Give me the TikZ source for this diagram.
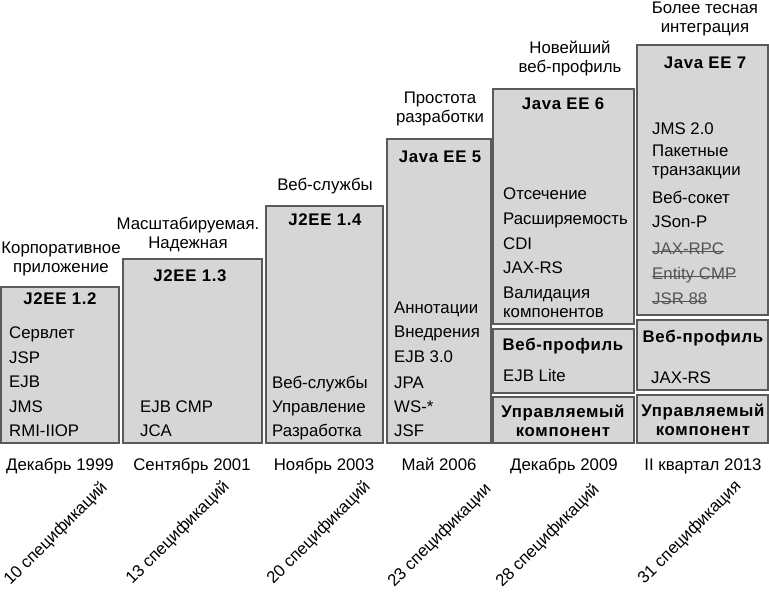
\documentclass[tikz,border=0pt]{standalone}
\usepackage{fontspec}
\setmainfont{Liberation Sans}
\newfontfamily\hdrfont[LetterSpace=4]{Liberation Sans}
\usetikzlibrary{positioning}
\definecolor{boxfill}{HTML}{D6D6D6}
\definecolor{boxline}{HTML}{5A5A5A}
\definecolor{oldtext}{HTML}{555555}

\begin{document}
\begin{tikzpicture}
		[x=1pt,y=-1pt,
		 every node/.style={font=\fontsize{16.8}{19}\selectfont,inner sep=0pt,anchor=base},
		 box/.style={fill=boxfill,draw=boxline,line width=1.2pt},
		 hdr/.style={font=\fontsize{16.8}{19}\selectfont\hdrfont\bfseries},
		 item/.style={anchor=base west},
		 stage/.style={align=center},
		 old/.style={item,text=oldtext,
		 	append after command={(\tikzlastnode.mid west) edge[draw=oldtext,line width=0.8pt] (\tikzlastnode.mid east)}},
		 spec/.style={anchor=center,rotate=45}]
		\useasboundingbox (0,0) rectangle (769,592);
		
		% boxes
		\draw[box] (1,287) rectangle (119,443);
		\draw[box] (123,259) rectangle (262,443);
		\draw[box] (266,206) rectangle (383,443);
		\draw[box] (387,139) rectangle (491,443);
		\draw[box] (493,89) rectangle (634,324);
		\draw[box] (493,329) rectangle (634,393);
		\draw[box] (493,397) rectangle (634,443);
		\draw[box] (637,45) rectangle (768,315);
		\draw[box] (637,320) rectangle (768,390);
		\draw[box] (637,395) rectangle (768,443);
		
		% what each release brought
		\node[stage] (s1) at (61,272) {Корпоративное\\приложение};
		\node[stage] (s2) at (188,248) {Масштабируемая.\\Надежная};
		\node[stage] (s3) at (325,190) {Веб-службы};
		\node[stage] (s4) at (440,122) {Простота\\разработки};
		\node[stage] (s5) at (570,72) {Новейший\\веб-профиль};
		\node[stage] (s6) at (705,32) {Более тесная\\интеграция};
		
		% J2EE 1.2
		\node[hdr] (h1) at (60,304) {J2EE 1.2};
		\node[item] (a1) at (9,338) {Сервлет};
		\node[item] (a2) at (9,363) {JSP};
		\node[item] (a3) at (9,387) {EJB};
		\node[item] (a4) at (9,412) {JMS};
		\node[item] (a5) at (9,436) {RMI-IIOP};
		
		% J2EE 1.3
		\node[hdr] (h2) at (190,281) {J2EE 1.3};
		\node[item] (b1) at (140,412) {EJB CMP};
		\node[item] (b2) at (140,436) {JCA};
		
		% J2EE 1.4
		\node[hdr] (h3) at (325,225) {J2EE 1.4};
		\node[item] (c1) at (272,388) {Веб-службы};
		\node[item] (c2) at (272,412) {Управление};
		\node[item] (c3) at (272,436) {Разработка};
		
		% Java EE 5
		\node[hdr] (h4) at (440,162) {Java EE 5};
		\node[item] (d1) at (394,313) {Аннотации};
		\node[item] (d2) at (394,337) {Внедрения};
		\node[item] (d3) at (394,362) {EJB 3.0};
		\node[item] (d4) at (394,388) {JPA};
		\node[item] (d5) at (394,412) {WS-*};
		\node[item] (d6) at (394,436) {JSF};
		
		% Java EE 6
		\node[hdr] (h5) at (563,109) {Java EE 6};
		\node[item] (e1) at (503,199) {Отсечение};
		\node[item] (e2) at (503,224) {Расширяемость};
		\node[item] (e3) at (503,249) {CDI};
		\node[item] (e4) at (503,273) {JAX-RS};
		\node[item,align=left] (e5) at (503,317) {Валидация\\компонентов};
		\node[hdr] (w5) at (563,350) {Веб-профиль};
		\node[item] (e6) at (503,381) {EJB Lite};
		\node[hdr,align=center] (m5) at (563,436) {Управляемый\\компонент};
		
		% Java EE 7
		\node[hdr] (h6) at (705,68) {Java EE 7};
		\node[item] (f1) at (652,134) {JMS 2.0};
		\node[item,align=left] (f2) at (652,175) {Пакетные\\транзакции};
		\node[item] (f3) at (652,203) {Веб-сокет};
		\node[item] (f4) at (652,227) {JSon-P};
		\node[old] (f5) at (652,254) {JAX-RPC};
		\node[old] (f6) at (652,279) {Entity CMP};
		\node[old] (f7) at (652,304) {JSR 88};
		\node[hdr] (w6) at (703,342) {Веб-профиль};
		\node[item] (f8) at (651,383) {JAX-RS};
		\node[hdr,align=center] (m6) at (703,435) {Управляемый\\компонент};
		
		% dates
		\node (t1) at (60,470) {Декабрь 1999};
		\node (t2) at (192,470) {Сентябрь 2001};
		\node (t3) at (324,470) {Ноябрь 2003};
		\node (t4) at (439,470) {Май 2006};
		\node (t5) at (564,470) {Декабрь 2009};
		\node (t6) at (703,470) {II квартал 2013};
		
		% number of specifications
		\node[spec] (n1) at (56,534) {10 спецификаций};
		\node[spec] (n2) at (178,533) {13 спецификаций};
		\node[spec] (n3) at (319,533) {20 спецификаций};
		\node[spec] (n4) at (440,536) {23 спецификации};
		\node[spec] (n5) at (548,536) {28 спецификаций};
		\node[spec] (n6) at (690,533) {31 спецификация};
		
		\end{tikzpicture}
\end{document}
